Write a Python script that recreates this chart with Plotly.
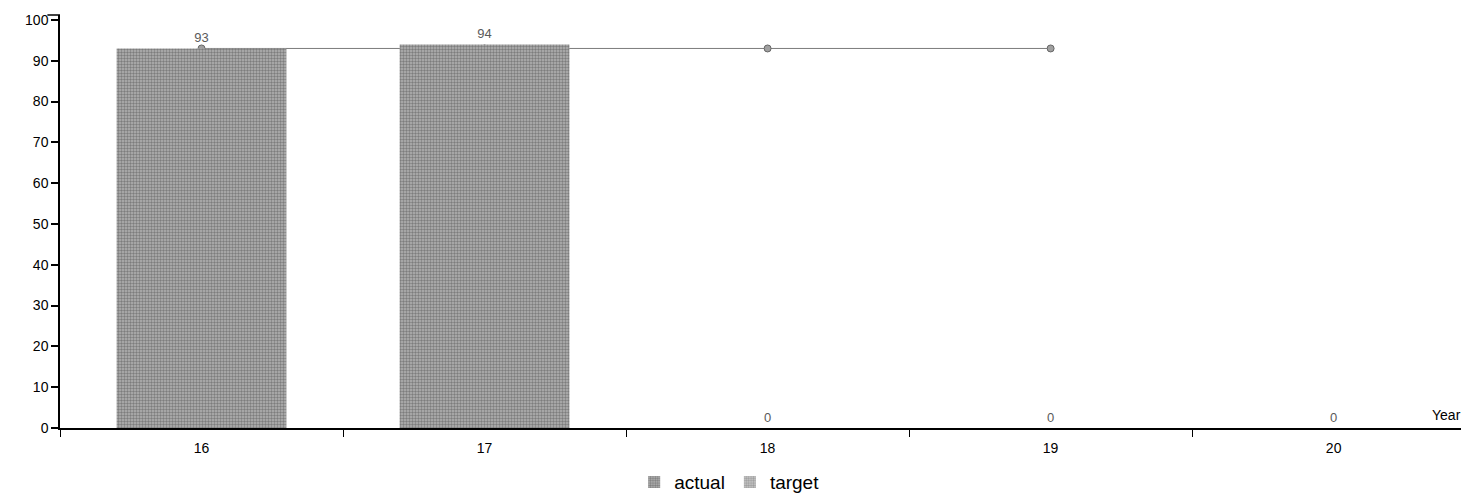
import plotly.graph_objects as go

# Data
years = ["16", "17", "18", "19", "20"]
actual = [93, 94, 0, 0, 0]
target_years = ["16", "17", "18", "19"]
target = [93, 93, 93, 93]
y_ticks = [0, 10, 20, 30, 40, 50, 60, 70, 80, 90, 100]

FONT = "Liberation Sans, Arial, sans-serif"
GRAIN_ACTUAL = dict(shape=".", fgcolor="#474747", bgcolor="#b3b3b3", size=3, solidity=0.5)
GRAIN_TARGET = dict(shape=".", fgcolor="#707070", bgcolor="#c9c9c9", size=3, solidity=0.5)

fig = go.Figure()

# Target line sits beneath the bars (base subplot)
fig.add_trace(go.Scatter(
    x=target_years, y=target, mode="lines+markers", showlegend=False,
    line=dict(color="#7c7c7c", width=1),
    marker=dict(symbol="circle", size=7, color="#a0a0a0",
                line=dict(color="#666666", width=1)),
    xaxis="x", yaxis="y", hoverinfo="skip",
))

# Legend entry for the target series
fig.add_trace(go.Bar(
    x=[None], y=[None], name="target", legendrank=2,
    marker=dict(color="#b0b0b0", pattern=GRAIN_TARGET, line=dict(width=0)),
    xaxis="x", yaxis="y",
))

# Actual bars drawn on an overlay so they cover the line
fig.add_trace(go.Bar(
    x=years, y=actual, name="actual", legendrank=1,
    width=0.6,
    marker=dict(color="#9a9a9a", pattern=GRAIN_ACTUAL, line=dict(width=0)),
    text=[str(v) for v in actual], textposition="outside",
    textfont=dict(family=FONT, size=13, color="#5a5a5a"),
    cliponaxis=False,
    xaxis="x2", yaxis="y2",
))

x_range = [-0.5, 4.45]
y_range = [0, 101.2]

fig.update_layout(
    width=1461, height=499,
    margin=dict(l=60, r=0, t=15, b=71, autoexpand=False),
    paper_bgcolor="white", plot_bgcolor="white",
    font=dict(family=FONT, size=14, color="black"),
    bargap=0.4,
    xaxis=dict(
        type="category", categoryorder="array", categoryarray=years,
        range=x_range, tickson="boundaries",
        showline=True, linecolor="black", linewidth=2,
        ticks="outside", ticklen=7, tickwidth=1, tickcolor="black",
        ticklabelstandoff=6,
        showgrid=False, zeroline=False,
        tickfont=dict(family=FONT, size=14, color="black"),
    ),
    yaxis=dict(
        range=y_range, tickvals=y_ticks,
        showline=True, linecolor="black", linewidth=1.5,
        ticks="outside", ticklen=7, tickwidth=1.5, tickcolor="black",
        showgrid=False, zeroline=False,
        tickfont=dict(family=FONT, size=14, color="black"),
    ),
    xaxis2=dict(
        type="category", categoryorder="array", categoryarray=years,
        range=x_range, overlaying="x", visible=False,
    ),
    yaxis2=dict(range=y_range, overlaying="y", visible=False),
    legend=dict(
        orientation="h", xref="paper", x=0.478, xanchor="center",
        yref="container", y=0.034, yanchor="middle",
        font=dict(family=FONT, size=19, color="black"),
        itemwidth=30, tracegroupgap=0,
    ),
    shapes=[dict(
        type="line", xref="paper", yref="paper",
        x0=-0.009, x1=0, y0=1, y1=1,
        line=dict(color="black", width=1.5),
    )],
    annotations=[dict(
        text="Year", xref="paper", yref="paper", x=0.978, y=0,
        xanchor="left", yanchor="bottom", yshift=3, showarrow=False,
        font=dict(family=FONT, size=14, color="black"),
    )],
)

fig.write_html("out.html")
